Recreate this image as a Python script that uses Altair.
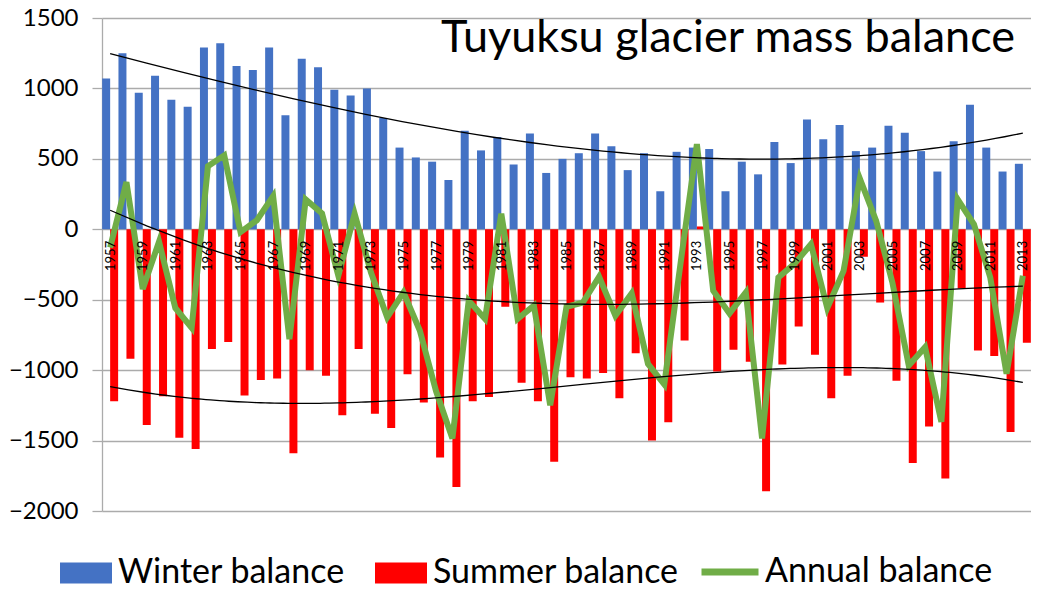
import altair as alt
import pandas as pd

years = [1957, 1958, 1959, 1960, 1961, 1962, 1963, 1964, 1965, 1966,
         1967, 1968, 1969, 1970, 1971, 1972, 1973, 1974, 1975, 1976,
         1977, 1978, 1979, 1980, 1981, 1982, 1983, 1984, 1985, 1986,
         1987, 1988, 1989, 1990, 1991, 1992, 1993, 1994, 1995, 1996,
         1997, 1998, 1999, 2000, 2001, 2002, 2003, 2004, 2005, 2006,
         2007, 2008, 2009, 2010, 2011, 2012, 2013]

winter = [1070, 1250, 970, 1090, 920, 870, 1290, 1320, 1160, 1130,
          1290, 810, 1210, 1150, 990, 950, 1000, 790, 580, 510,
          480, 350, 700, 560, 655, 460, 680, 400, 500, 540,
          680, 590, 420, 540, 270, 550, 580, 570, 270, 480,
          390, 620, 470, 780, 640, 740, 555, 580, 735, 685,
          555, 410, 625, 885, 580, 410, 465]

summer = [-1220, -920, -1390, -1185, -1480, -1560, -850, -800, -1180, -1070,
          -1060, -1590, -1000, -1040, -1320, -850, -1310, -1410, -1030, -1230,
          -1620, -1830, -1220, -1190, -550, -1090, -1220, -1650, -1050, -1060,
          -1020, -1200, -880, -1500, -1370, -790, 20, -1010, -855, -940,
          -1860, -960, -690, -890, -1200, -1040, -195, -520, -1075, -1660,
          -1400, -1770, -420, -860, -900, -1440, -805]

annual = [-130, 335, -424, -88, -559, -700, 448, 525, -20, 64,
          235, -780, 212, 113, -330, 110, -305, -625, -448, -719,
          -1150, -1485, -507, -636, 110, -636, -542, -1250, -550, -520,
          -337, -613, -455, -955, -1101, -240, 605, -436, -597, -448,
          -1485, -342, -243, -106, -559, -295, 360, 60, -380, -967,
          -837, -1367, 212, 35, -342, -1025, -330]

x_labels = years[::2]
y_ticks = [-2000, -1500, -1000, -500, 0, 500, 1000, 1500]

SER_W = "Winter balance"
SER_S = "Summer balance"
SER_A = "Annual balance"
title_text = "Tuyuksu glacier mass balance"

bars_df = pd.DataFrame({
    "year": years + years,
    "series": [SER_W] * len(years) + [SER_S] * len(years),
    "value": winter + summer,
})
wide_df = pd.DataFrame({
    "year": years, "winter": winter, "summer": summer,
    "annual": annual, "series": [SER_A] * len(years),
})

FONT = "Lato"
GRAY = "#ababab"
W, H = 929, 493
ZERO_Y = H * 1500 / 3500
MID = 1985   # centring year for a well-conditioned polynomial fit
HALF = 0.49  # part of a category taken by each bar

x_scale = alt.Scale(domain=[years[0] - 0.5, years[-1] + 0.5], nice=False, zero=False)
y_scale = alt.Scale(domain=[-2000, 1500], nice=False, zero=False)
y_axis = alt.Axis(values=y_ticks, format="d", title=None, labelFont=FONT, labelFontSize=24,
                  labelColor="black", labelPadding=14, tickSize=10, tickColor=GRAY,
                  tickWidth=1.3, domainColor=GRAY, domainWidth=1.3, grid=True,
                  gridColor=GRAY, gridWidth=1.3, labelOverlap=False)
x_axis = alt.Axis(values=x_labels, format="d", title=None, labelAngle=270, labelFont=FONT,
                  labelFontSize=13, labelColor="black", labelPadding=11, ticks=False,
                  domain=False, grid=False, offset=-(H - ZERO_Y), zindex=1,
                  labelOverlap=False, labelBound=False, labelFlush=False)

bars = alt.Chart(bars_df).transform_calculate(
    x0=f"datum.series == '{SER_W}' ? datum.year - {HALF} : datum.year",
    x1=f"datum.series == '{SER_W}' ? datum.year : datum.year + {HALF}",
).mark_bar().encode(
    x=alt.X("x0:Q", scale=x_scale, axis=x_axis, title=None),
    x2="x1:Q",
    y=alt.Y("value:Q", scale=y_scale, axis=y_axis, title=None),
    y2=alt.datum(0),
    fill=alt.Fill("series:N",
                  scale=alt.Scale(domain=[SER_W, SER_S], range=["#4472C4", "#FF0000"]),
                  legend=alt.Legend(title=None, orient="none", legendX=-42, legendY=529,
                                    direction="horizontal",
                                    symbolType="M-1,-0.4H1V0.4H-1Z", symbolSize=2704,
                                    symbolStrokeWidth=0, labelFont=FONT, labelFontSize=34,
                                    labelColor="black", labelOffset=6, columnPadding=30,
                                    labelLimit=500)),
)

line = alt.Chart(wide_df).mark_line(strokeWidth=6).encode(
    x=alt.X("year:Q", scale=x_scale, axis=x_axis, title=None),
    y=alt.Y("annual:Q", scale=y_scale, axis=y_axis, title=None),
    stroke=alt.Stroke("series:N",
                      scale=alt.Scale(domain=[SER_A], range=["#70AD47"]),
                      legend=alt.Legend(title=None, orient="none", legendX=596, legendY=522,
                                        symbolType="stroke", symbolSize=3249,
                                        symbolStrokeWidth=7, labelFont=FONT,
                                        labelFontSize=34, labelColor="black",
                                        labelOffset=3, labelLimit=500)),
)

trend = alt.Chart(wide_df).transform_fold(
    ["winter", "summer", "annual"], as_=["key", "val"]
).transform_calculate(
    t=f"datum.year - {MID}"
).transform_regression(
    "t", "val", groupby=["key"], method="poly", order=3
).transform_calculate(
    yr=f"datum.t + {MID}"
).mark_line(color="black", strokeWidth=1.3).encode(
    x=alt.X("yr:Q", scale=x_scale, axis=x_axis, title=None),
    y=alt.Y("val:Q", scale=y_scale, axis=y_axis, title=None),
    detail="key:N",
)

title = alt.Chart(pd.DataFrame({"label": [title_text]})).mark_text(
    font=FONT, fontSize=45, color="black", align="right", baseline="alphabetic"
).encode(
    text="label:N", x=alt.value(W - 16), y=alt.value(34)
)

chart = alt.layer(bars, line, trend, title).properties(
    width=W, height=H,
    padding={"left": 94, "top": 10, "right": 0, "bottom": 75},
    autosize=alt.AutoSizeParams(type="none"),
).configure_view(stroke=None).configure_axis(labelOverlap=False)

chart.save("out.html", embed_options={"renderer": "svg", "actions": False})
